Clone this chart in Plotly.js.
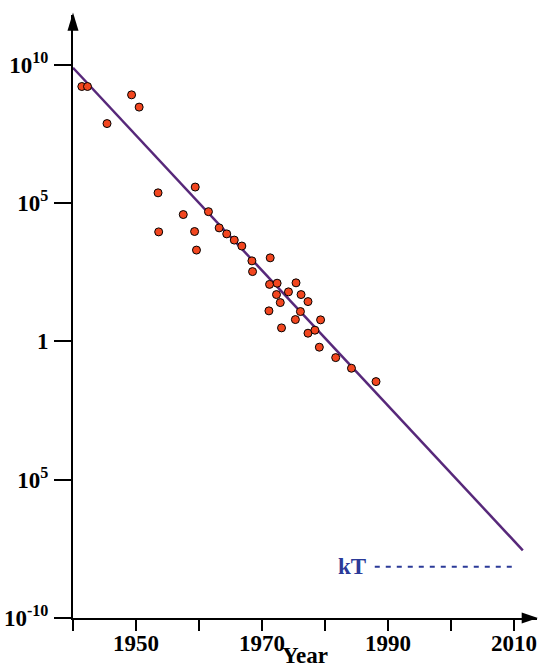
<!DOCTYPE html>
<html>
<head>
<meta charset="utf-8">
<script src="https://cdn.plot.ly/plotly-3.0.1.min.js"></script>
<style>html,body{margin:0;padding:0;background:#fff;}#chart{width:542px;height:668px;}</style>
</head>
<body>
<div id="chart"></div>
<script>
// Data
const years = [1941.4, 1942.3, 1949.3, 1950.5, 1945.4, 1953.5, 1959.4, 1957.5, 1961.5, 1953.6,
  1959.3, 1963.2, 1964.4, 1965.6, 1966.8, 1959.6, 1968.4, 1971.3, 1968.5, 1971.2,
  1972.4, 1975.4, 1972.3, 1974.2, 1976.2, 1972.9, 1977.3, 1971.1, 1976.1, 1975.3,
  1979.3, 1973.1, 1977.3, 1978.4, 1979.1, 1981.7, 1984.2, 1988.1];
const values = [1.64e9, 1.64e9, 8.2e8, 2.95e8, 7.5e7, 2.35e5, 3.8e5, 3.85e4, 4.9e4, 9.1e3,
  9.4e3, 1.27e4, 7.7e3, 4.6e3, 2.8e3, 2.0e3, 815, 1050, 334, 115,
  127, 131, 49.3, 61.7, 49.3, 25.3, 27.5, 12.7, 12.0, 6.15,
  6.0, 3.08, 1.98, 2.54, 0.617, 0.259, 0.107, 0.0352];
const trendYears = [1940, 2011.4];
const trendValues = [7.8e9, 2.8e-8];
const kTYears = [1987.9, 2009.8];
const kTValues = [7.2e-9, 7.2e-9];
const kTLabel = 'kT';
const xTitle = 'Year';
const xTickVals = [1950, 1970, 1990, 2010];
const xTickText = ['<b>1950</b>', '<b>1970</b>', '<b>1990</b>', '<b>2010</b>'];
const yTickVals = [1e-10, 1e-5, 1, 1e5, 1e10];
const yTickText = ['<b>10<sup>-10</sup></b>', '<b>10<sup>5</sup></b>', '<b>1</b>', '<b>10<sup>5</sup></b>', '<b>10<sup>10</sup></b>'];

const serif = 'Liberation Serif, Times New Roman, serif';

const traces = [
  {x: trendYears, y: trendValues, type: 'scatter', mode: 'lines',
   line: {color: '#57287a', width: 2.5}, hoverinfo: 'skip'},
  {x: kTYears, y: kTValues, type: 'scatter', mode: 'lines',
   line: {color: '#2b3a98', width: 2, dash: '5px,6px'}, hoverinfo: 'skip'},
  {x: years, y: values, type: 'scatter', mode: 'markers',
   marker: {color: '#f2461f', size: 8, line: {color: '#000', width: 1}}}
];

const layout = {
  width: 542, height: 668,
  margin: {l: 73, r: 5, t: 15, b: 50},
  showlegend: false,
  paper_bgcolor: '#fff', plot_bgcolor: '#fff',
  xaxis: {
    range: [1940, 2013.65], showgrid: false, zeroline: false,
    showline: true, linecolor: '#000', linewidth: 2,
    ticks: 'outside', ticklen: 11, tickwidth: 2, tickcolor: '#000',
    tickvals: xTickVals, ticktext: xTickText,
    minor: {tick0: 1940, dtick: 10, ticks: 'outside', ticklen: 11, tickwidth: 2, tickcolor: '#000', showgrid: false},
    tickfont: {family: serif, size: 23, color: '#000', weight: 700},
    ticklabelstandoff: -8
  },
  yaxis: {
    type: 'log', range: [-10, 11.8], showgrid: false, zeroline: false,
    showline: true, linecolor: '#000', linewidth: 2,
    ticks: 'outside', ticklen: 17, tickwidth: 2, tickcolor: '#000',
    tickvals: yTickVals, ticktext: yTickText,
    tickfont: {family: serif, size: 23, color: '#000', weight: 700},
    ticklabelstandoff: 1
  },
  annotations: [
    {x: 1984.3, y: Math.log10(kTValues[0]), xref: 'x', yref: 'y', text: '<b>' + kTLabel + '</b>', showarrow: false,
     font: {family: serif, size: 23, color: '#2b3a98', weight: 700}},
    {x: 0.5, y: -0.063, xref: 'paper', yref: 'paper', text: '<b>' + xTitle + '</b>', showarrow: false,
     yanchor: 'middle', font: {family: serif, size: 23, color: '#000', weight: 700}}
  ],
  shapes: [
    {type: 'path', xref: 'paper', yref: 'paper', path: 'M -0.0119 0.974 L 0.0119 0.974 L 0 1.004 Z',
     fillcolor: '#000', line: {width: 0}},
    {type: 'path', xref: 'paper', yref: 'paper', path: 'M 0.967 0.009 L 0.967 -0.009 L 1.002 0 Z',
     fillcolor: '#000', line: {width: 0}}
  ]
};

Plotly.newPlot('chart', traces, layout, {displayModeBar: false, staticPlot: true});
</script>
</body>
</html>
